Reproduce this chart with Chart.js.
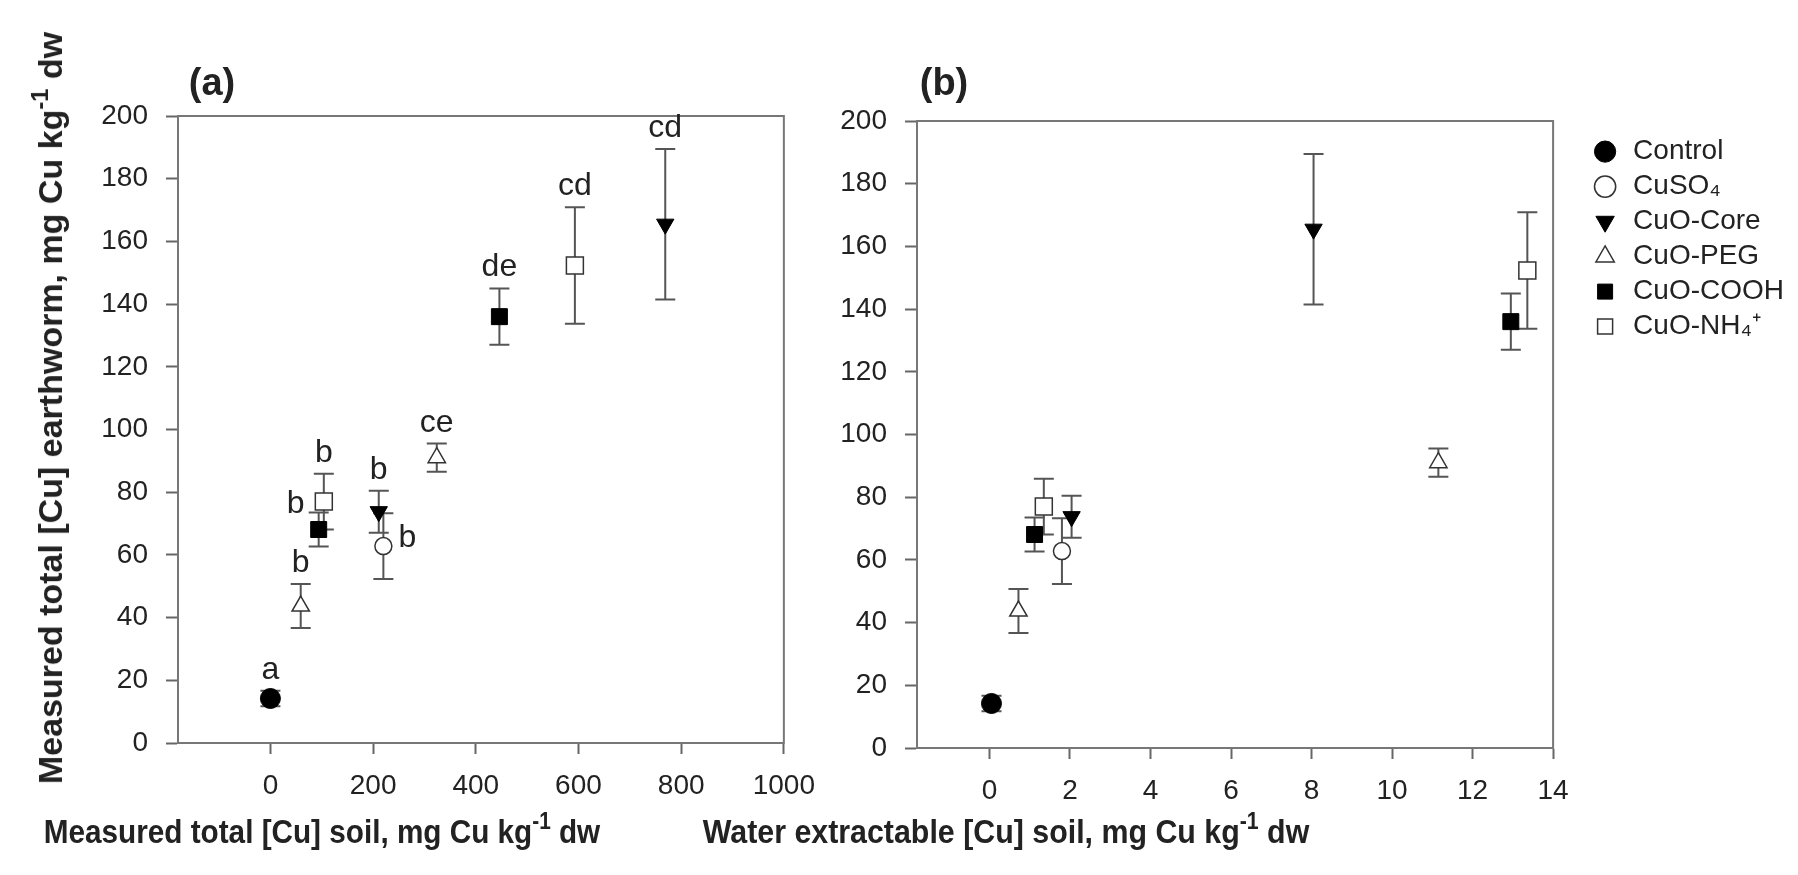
<!DOCTYPE html>
<html>
<head>
<meta charset="utf-8">
<script src="https://cdn.jsdelivr.net/npm/chart.js@4.4.1/dist/chart.umd.min.js"></script>
<style>
  body { margin: 0; background: #fff; }
  #wrap { position: relative; width: 1798px; height: 875px; overflow: hidden;
          font-family: "Liberation Sans", Arial, sans-serif; color: #222; background: #fff; }
  canvas { position: absolute; top: 0; }
  #chartA { left: 0; }
  #chartB { left: 830px; }
  .lbl { position: absolute; white-space: nowrap; font-weight: bold; line-height: 1; }
  .lbl sup { font-size: 0.7em; vertical-align: 0.6em; line-height: 0; }
  #ytitle { left: 50px; top: 408px; font-size: 34px; transform: translate(-50%, -50%) rotate(-90deg); }
  #xtitleA { left: 322px; top: 815px; font-size: 33px; transform: translateX(-50%) scaleX(0.9); }
  #xtitleB { left: 1006px; top: 815px; font-size: 33px; transform: translateX(-50%) scaleX(0.92); }
  #panelA { left: 212px; top: 82px; font-size: 38px; transform: translate(-50%, -50%); }
  #panelB { left: 944px; top: 82px; font-size: 38px; transform: translate(-50%, -50%); }
</style>
</head>
<body>
<div id="wrap">
  <canvas id="chartA" width="830" height="875"></canvas>
  <canvas id="chartB" width="968" height="875"></canvas>
  <div class="lbl" id="panelA">(a)</div>
  <div class="lbl" id="panelB">(b)</div>
  <div class="lbl" id="ytitle">Measured total [Cu] earthworm, mg Cu kg<sup>-1</sup> dw</div>
  <div class="lbl" id="xtitleA">Measured total [Cu] soil, mg Cu kg<sup>-1</sup> dw</div>
  <div class="lbl" id="xtitleB">Water extractable [Cu] soil, mg Cu kg<sup>-1</sup> dw</div>
</div>
<script>
// values (low dose, high dose)
const treatments = ['Control', 'CuSO₄', 'CuO-Core', 'CuO-PEG', 'CuO-COOH', 'CuO-NH₄⁺'];
const totalSoilCu = [[0], [220], [211, 769], [59, 324], [94, 446], [104, 593]];
const waterSoilCu = [[0.05], [1.8], [2.04, 8.05], [0.72, 11.15], [1.12, 12.95], [1.35, 13.36]];
const wormCu = [[14.2], [62.8], [73.8, 165.5], [43.7, 91], [68.1, 136], [77, 152.3]];
const wormSE = [[2.5], [10.5], [6.7, 24], [7, 4.5], [5.4, 9], [8.9, 18.6]];
const letters = [['a'], ['b'], ['b', 'cd'], ['b', 'ce'], ['b', 'de'], ['b', 'cd']];

const yTicks = [0, 20, 40, 60, 80, 100, 120, 140, 160, 180, 200];
const xTicksA = [0, 200, 400, 600, 800, 1000];
const xTicksB = [0, 2, 4, 6, 8, 10, 12, 14];

// where each letter sits: 'top' = above the error bar, 'right' / 'left' = beside the marker
const letterPlace = [['top'], ['right'], ['top', 'top'], ['top', 'top'], ['left', 'top'], ['top', 'top']];

const markerStyles = [
  {pointStyle: 'circle', pointRadius: 10, backgroundColor: '#000', borderColor: '#000', borderWidth: 1},
  {pointStyle: 'circle', pointRadius: 8.5, backgroundColor: '#fff', borderColor: '#333', borderWidth: 1.5},
  {pointStyle: 'triangle', pointRadius: 10, rotation: 180, backgroundColor: '#000', borderColor: '#000', borderWidth: 1},
  {pointStyle: 'triangle', pointRadius: 10, backgroundColor: '#fff', borderColor: '#333', borderWidth: 1.5},
  {pointStyle: 'rect', pointRadius: 11.3, backgroundColor: '#000', borderColor: '#000', borderWidth: 1},
  {pointStyle: 'rect', pointRadius: 12, backgroundColor: '#fff', borderColor: '#333', borderWidth: 1.5}
];

Chart.defaults.font.family = '"Liberation Sans", Arial, sans-serif';
Chart.defaults.color = '#222';

function makeDatasets(xs) {
  return treatments.map((name, i) => ({
    label: name,
    data: xs[i].map((xv, j) => ({x: xv, y: wormCu[i][j], se: wormSE[i][j], tag: letters[i][j], place: letterPlace[i][j]})),
    pointHoverRadius: markerStyles[i].pointRadius,
    ...markerStyles[i]
  }));
}

const errorBars = {
  id: 'errorBars',
  beforeDatasetsDraw(chart) {
    const {ctx, scales: {x, y}} = chart;
    ctx.save();
    ctx.strokeStyle = '#555';
    ctx.lineWidth = 2;
    chart.data.datasets.forEach(ds => {
      ds.data.forEach(p => {
        const px = x.getPixelForValue(p.x);
        const top = y.getPixelForValue(p.y + p.se);
        const bot = y.getPixelForValue(p.y - p.se);
        ctx.beginPath();
        ctx.moveTo(px, top); ctx.lineTo(px, bot);
        ctx.moveTo(px - 10, top); ctx.lineTo(px + 10, top);
        ctx.moveTo(px - 10, bot); ctx.lineTo(px + 10, bot);
        ctx.stroke();
      });
    });
    ctx.restore();
  }
};

const frame = {
  id: 'frame',
  beforeDatasetsDraw(chart) {
    const {ctx, chartArea: a} = chart;
    ctx.save();
    ctx.strokeStyle = '#777';
    ctx.lineWidth = 2;
    ctx.strokeRect(a.left, a.top, a.right - a.left, a.bottom - a.top);
    ctx.restore();
  }
};

const letterLabels = {
  id: 'letterLabels',
  afterDatasetsDraw(chart) {
    const {ctx, scales: {x, y}} = chart;
    ctx.save();
    ctx.font = '32px "Liberation Sans", Arial, sans-serif';
    ctx.fillStyle = '#222';
    ctx.textAlign = 'center';
    ctx.textBaseline = 'alphabetic';
    chart.data.datasets.forEach(ds => {
      ds.data.forEach(p => {
        const px = x.getPixelForValue(p.x);
        const py = y.getPixelForValue(p.y);
        const top = y.getPixelForValue(p.y + p.se);
        if (p.place === 'right') ctx.fillText(p.tag, px + 24, py + 1);
        else if (p.place === 'left') ctx.fillText(p.tag, px - 23, py - 17);
        else ctx.fillText(p.tag, px, top - 12);
      });
    });
    ctx.restore();
  }
};

function xAxis(min, max, ticks, height) {
  return {
    type: 'linear', min: min, max: max,
    afterBuildTicks: s => { s.ticks = ticks.map(v => ({value: v})); },
    afterFit: s => { s.height = height; },
    grid: {drawOnChartArea: false, tickLength: 11, tickColor: '#666', tickWidth: 2},
    border: {display: true, color: '#777', width: 2},
    ticks: {padding: 15, font: {size: 28}, color: '#222', maxRotation: 0, callback: v => String(v)}
  };
}

function yAxis(width) {
  return {
    type: 'linear', min: 0, max: 200,
    afterBuildTicks: s => { s.ticks = yTicks.map(v => ({value: v})); },
    afterFit: s => { s.width = width; },
    grid: {drawOnChartArea: false, tickLength: 12, tickColor: '#666', tickWidth: 2},
    border: {display: true, color: '#777', width: 2},
    ticks: {padding: 18, font: {size: 28}, color: '#222', callback: v => String(v)}
  };
}

new Chart(document.getElementById('chartA'), {
  type: 'scatter',
  data: {datasets: makeDatasets(totalSoilCu)},
  options: {
    responsive: false,
    animation: false,
    devicePixelRatio: 1,
    layout: {padding: {top: 116, right: 18, bottom: 0, left: 0}},
    plugins: {legend: {display: false}, tooltip: {enabled: false}},
    scales: {
      x: xAxis(-180, 1000, xTicksA, 132),
      y: yAxis(178)
    }
  },
  plugins: [frame, errorBars, letterLabels]
});

new Chart(document.getElementById('chartB'), {
  type: 'scatter',
  data: {datasets: makeDatasets(waterSoilCu)},
  options: {
    responsive: false,
    animation: false,
    devicePixelRatio: 1,
    layout: {padding: {top: 121, right: 4, bottom: 0, left: 0}},
    plugins: {
      tooltip: {enabled: false},
      legend: {
        position: 'right',
        align: 'start',
        maxWidth: 215,
        title: {display: true, text: '', padding: 0, font: {size: 8}},
        labels: {usePointStyle: true, boxWidth: 28, boxHeight: 15, padding: 7,
                 font: {size: 28}, color: '#222'}
      }
    },
    scales: {
      x: xAxis(-1.8, 14, xTicksB, 127),
      y: yAxis(87),
      y2: {
        position: 'right',
        afterFit: s => { s.width = 31; },
        grid: {display: false},
        border: {display: false},
        ticks: {display: false}
      }
    }
  },
  plugins: [frame, errorBars]
});
</script>
</body>
</html>
